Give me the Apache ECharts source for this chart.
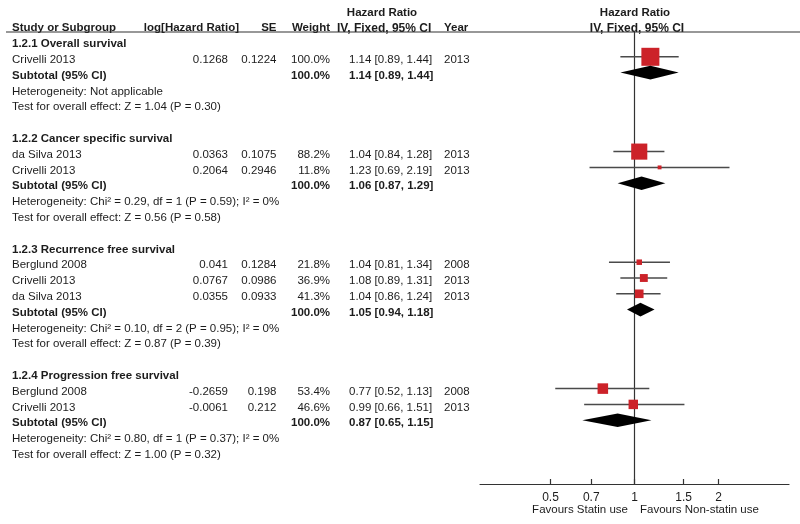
<!DOCTYPE html>
<html>
<head>
<meta charset="utf-8">
<script src="https://cdn.jsdelivr.net/npm/echarts@6/dist/echarts.min.js"></script>
<style>
html,body{margin:0;padding:0;background:#fff;overflow:hidden;}
#chart{width:800px;height:524px;}
</style>
</head>
<body>
<div id="chart"></div>
<script>
// ---------- data ----------
const groupTitles = ['1.2.1 Overall survival', '1.2.2 Cancer specific survival', '1.2.3 Recurrence free survival', '1.2.4 Progression free survival'];
const studyGroup = [0, 1, 1, 2, 2, 2, 3, 3];
const studyNames = ['Crivelli 2013', 'da Silva 2013', 'Crivelli 2013', 'Berglund 2008', 'Crivelli 2013', 'da Silva 2013', 'Berglund 2008', 'Crivelli 2013'];
const logHR = ['0.1268', '0.0363', '0.2064', '0.041', '0.0767', '0.0355', '-0.2659', '-0.0061'];
const seValues = ['0.1224', '0.1075', '0.2946', '0.1284', '0.0986', '0.0933', '0.198', '0.212'];
const weights = [100.0, 88.2, 11.8, 21.8, 36.9, 41.3, 53.4, 46.6];
const hr = [1.14, 1.04, 1.23, 1.04, 1.08, 1.04, 0.77, 0.99];
const hrLow = [0.89, 0.84, 0.69, 0.81, 0.89, 0.86, 0.52, 0.66];
const hrHigh = [1.44, 1.28, 2.19, 1.34, 1.31, 1.24, 1.13, 1.51];
const years = ['2013', '2013', '2013', '2008', '2013', '2013', '2008', '2013'];
const subWeights = [100.0, 100.0, 100.0, 100.0];
const subHR = [1.14, 1.06, 1.05, 0.87];
const subLow = [0.89, 0.87, 0.94, 0.65];
const subHigh = [1.44, 1.29, 1.18, 1.15];
const heterogeneity = [
  'Heterogeneity: Not applicable',
  'Heterogeneity: Chi\u00b2 = 0.29, df = 1 (P = 0.59); I\u00b2 = 0%',
  'Heterogeneity: Chi\u00b2 = 0.10, df = 2 (P = 0.95); I\u00b2 = 0%',
  'Heterogeneity: Chi\u00b2 = 0.80, df = 1 (P = 0.37); I\u00b2 = 0%'
];
const overallTest = [
  'Test for overall effect: Z = 1.04 (P = 0.30)',
  'Test for overall effect: Z = 0.56 (P = 0.58)',
  'Test for overall effect: Z = 0.87 (P = 0.39)',
  'Test for overall effect: Z = 1.00 (P = 0.32)'
];
const tickValues = [0.5, 0.7, 1, 1.5, 2];
const tickLabels = ['0.5', '0.7', '1', '1.5', '2'];
const favoursLeft = 'Favours Statin use';
const favoursRight = 'Favours Non-statin use';

// ---------- layout ----------
const FONT = "'Liberation Sans', Arial, sans-serif";
const FS = 11.5;
const TXT = '#1c1c1c';
const COL = {name: 12, logHR: 228, se: 276.5, weight: 330, hr: 349, year: 444};
const fmtCI = (e, l, h) => e.toFixed(2) + ' [' + l.toFixed(2) + ', ' + h.toFixed(2) + ']';

const texts = []; // [x, row, text, align, bold, size]
const studyMarks = []; // [lnLo, lnHi, lnEst, row, weight]
const diamonds = []; // [lnLo, lnHi, lnEst, row]

// headers
texts.push([382, -2, 'Hazard Ratio', 'center', true, 11.5]);
texts.push([635, -2, 'Hazard Ratio', 'center', true, 11.5]);
texts.push([COL.name, -1, 'Study or Subgroup', 'left', true, 11.5]);
texts.push([239, -1, 'log[Hazard Ratio]', 'right', true, 11.5]);
texts.push([COL.se, -1, 'SE', 'right', true, 11.5]);
texts.push([COL.weight, -1, 'Weight', 'right', true, 11.5]);
texts.push([337, -1, 'IV, Fixed, 95% CI', 'left', true, 12]);
texts.push([COL.year, -1, 'Year', 'left', true, 11.5]);
texts.push([637, -1, 'IV, Fixed, 95% CI', 'center', true, 12]);

let row = 0;
groupTitles.forEach((title, g) => {
  texts.push([COL.name, row, title, 'left', true]);
  row++;
  studyNames.forEach((nm, i) => {
    if (studyGroup[i] !== g) return;
    texts.push([COL.name, row, nm, 'left', false]);
    texts.push([COL.logHR, row, logHR[i], 'right', false]);
    texts.push([COL.se, row, seValues[i], 'right', false]);
    texts.push([COL.weight, row, weights[i].toFixed(1) + '%', 'right', false]);
    texts.push([COL.hr, row, fmtCI(hr[i], hrLow[i], hrHigh[i]), 'left', false]);
    texts.push([COL.year, row, years[i], 'left', false]);
    studyMarks.push([Math.log(hrLow[i]), Math.log(hrHigh[i]), Math.log(hr[i]), row, weights[i]]);
    row++;
  });
  texts.push([COL.name, row, 'Subtotal (95% CI)', 'left', true]);
  texts.push([COL.weight, row, subWeights[g].toFixed(1) + '%', 'right', true]);
  texts.push([COL.hr, row, fmtCI(subHR[g], subLow[g], subHigh[g]), 'left', true]);
  diamonds.push([Math.log(subLow[g]), Math.log(subHigh[g]), Math.log(subHR[g]), row]);
  row++;
  texts.push([COL.name, row, heterogeneity[g], 'left', false]);
  row++;
  texts.push([COL.name, row, overallTest[g], 'left', false]);
  row++;
  row++; // blank
});
texts.push([628, 29.5, favoursLeft, 'right', false]);
texts.push([640, 29.5, favoursRight, 'left', false]);

const ROW0 = 41, PITCH = 15.8;
const tableYMin = -ROW0 / PITCH;
const tableYMax = (524 - ROW0) / PITCH;
const plotTop = 32, plotBottomPx = 484;
const plotYMin = (plotTop - ROW0) / PITCH;
const plotYMax = (plotBottomPx - ROW0) / PITCH;
const lnMax = 1.275;

const chart = echarts.init(document.getElementById('chart'), null, {renderer: 'canvas', width: 800, height: 524});
chart.setOption({
  animation: false,
  backgroundColor: '#ffffff',
  grid: [
    {left: 0, right: 0, top: 0, bottom: 0, containLabel: false},
    {left: 480, right: 11, top: plotTop, bottom: 524 - plotBottomPx, containLabel: false}
  ],
  xAxis: [
    {gridIndex: 0, type: 'value', min: 0, max: 800, show: false},
    {
      gridIndex: 1, type: 'value', min: -lnMax, max: lnMax,
      axisLine: {show: true, onZero: false, lineStyle: {color: '#333', width: 1.2}},
      axisTick: {show: true, inside: true, length: 5, customValues: tickValues.map(v => Math.log(v)), lineStyle: {color: '#333', width: 1.2}},
      axisLabel: {
        show: true, margin: 8, color: TXT, fontFamily: FONT, fontSize: 12,
        customValues: tickValues.map(v => Math.log(v)),
        formatter: (v) => {
          let best = 0, bd = Infinity;
          tickValues.forEach((t, i) => { const d = Math.abs(Math.log(t) - v); if (d < bd) { bd = d; best = i; } });
          return tickLabels[best];
        }
      },
      splitLine: {show: false}
    }
  ],
  yAxis: [
    {gridIndex: 0, type: 'value', min: tableYMin, max: tableYMax, inverse: true, show: false},
    {
      gridIndex: 1, type: 'value', min: plotYMin, max: plotYMax, inverse: true,
      axisLine: {show: true, onZero: true, lineStyle: {color: '#333', width: 1.2}},
      axisTick: {show: false}, axisLabel: {show: false}, splitLine: {show: false}
    }
  ],
  series: [
    {
      type: 'line', xAxisIndex: 0, yAxisIndex: 0, symbol: 'none', silent: true,
      lineStyle: {color: '#333', width: 1.2},
      data: [[6, plotYMin], [800, plotYMin]]
    },
    {
      type: 'custom', xAxisIndex: 0, yAxisIndex: 0, silent: true, clip: false,
      encode: {x: 0, y: 1},
      data: texts.map(t => [t[0], t[1]]),
      renderItem: (params, api) => {
        const t = texts[params.dataIndex];
        const p = api.coord([api.value(0), api.value(1)]);
        return {
          type: 'text', x: p[0], y: p[1] + 3,
          style: {
            text: t[2], textAlign: t[3], textVerticalAlign: 'middle',
            fill: TXT, font: (t[4] ? 'bold ' : '') + (t[5] || FS) + 'px ' + FONT
          }
        };
      }
    },
    {
      type: 'custom', xAxisIndex: 1, yAxisIndex: 1, silent: true,
      encode: {x: [0, 1, 2], y: 3},
      data: studyMarks,
      renderItem: (params, api) => {
        const a = api.coord([api.value(0), api.value(3)]);
        const b = api.coord([api.value(1), api.value(3)]);
        const c = api.coord([api.value(2), api.value(3)]);
        const s = 2 + 16 * api.value(4) / 100;
        return {
          type: 'group',
          children: [
            {type: 'line', shape: {x1: a[0], y1: a[1], x2: b[0], y2: b[1]}, style: {stroke: '#4a4a4a', lineWidth: 1.5}},
            {type: 'rect', shape: {x: c[0] - s / 2, y: c[1] - s / 2, width: s, height: s}, style: {fill: '#cc2229'}}
          ]
        };
      }
    },
    {
      type: 'custom', xAxisIndex: 1, yAxisIndex: 1, silent: true,
      encode: {x: [0, 1, 2], y: 3},
      data: diamonds,
      renderItem: (params, api) => {
        const a = api.coord([api.value(0), api.value(3)]);
        const b = api.coord([api.value(1), api.value(3)]);
        const c = api.coord([api.value(2), api.value(3)]);
        const h = 6.8;
        return {
          type: 'polygon',
          shape: {points: [[a[0], a[1]], [c[0], c[1] - h], [b[0], b[1]], [c[0], c[1] + h]]},
          style: {fill: '#000'}
        };
      }
    }
  ]
});
</script>
</body>
</html>
